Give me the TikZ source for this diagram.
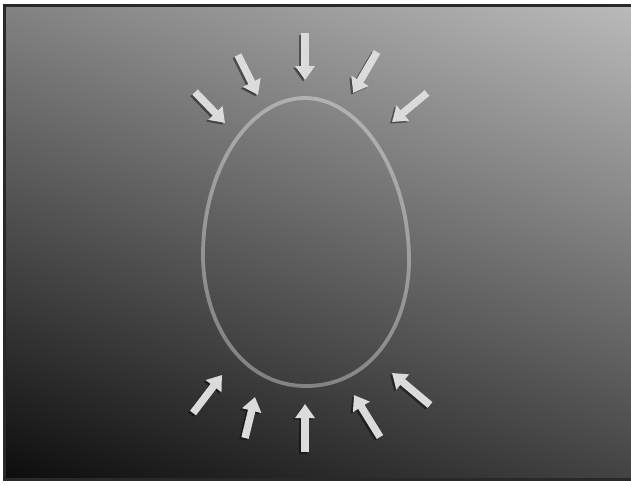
\documentclass[tikz,border=0pt]{standalone}
\usetikzlibrary{arrows.meta,shadings}
\definecolor{bgtl}{gray}{0.51}
\definecolor{bgtr}{gray}{0.73}
\definecolor{bgbl}{gray}{0.05}
\definecolor{bgbr}{gray}{0.26}
\definecolor{frm}{gray}{0.16}
\definecolor{arr}{gray}{0.86}
\tikzset{
  blockarrow/.style={line width=7.5pt, arr, -{Triangle[width=19pt,length=14pt]}},
  arrowshadow/.style={line width=7.5pt, black, opacity=0.45, -{Triangle[width=19pt,length=14pt]}, xshift=-2pt, yshift=-1.6pt},
  eggline/.style={line width=3.8pt, white, opacity=0.36}
}
\newcommand{\pusharrow}[2]{%
  \draw[arrowshadow] #1 -- #2;
  \draw[blockarrow] #1 -- #2;}
\begin{document}
\begin{tikzpicture}[x=1pt,y=-1pt]
\useasboundingbox (0,0) rectangle (631,485);
\fill[white] (0,0) rectangle (631,485);
\shade[upper left=bgtl, upper right=bgtr, lower left=bgbl, lower right=bgbr] (4,5) rectangle (631,480);
\draw[frm, line width=3pt] (631,5.5) -- (4.5,5.5) -- (4.5,479.5) -- (631,479.5);
% egg
\draw[eggline] (305,98) .. controls (360,98) and (409,172) .. (409,260)
  .. controls (409,326) and (371,386) .. (306,386)
  .. controls (241,386) and (203,322) .. (203,255)
  .. controls (203,168) and (250,98) .. (305,98) -- cycle;
% top arrows
\pusharrow{(195,92)}{(225,123)}
\pusharrow{(238,55)}{(258,95)}
\pusharrow{(305,33)}{(305,80)}
\pusharrow{(377,52)}{(353,93)}
\pusharrow{(427,93)}{(392,122)}
% bottom arrows
\pusharrow{(193,413)}{(222,375)}
\pusharrow{(245,438)}{(255,397)}
\pusharrow{(305,452)}{(305,404)}
\pusharrow{(380,437)}{(354,395)}
\pusharrow{(430,405)}{(392,373)}
\end{tikzpicture}
\end{document}
